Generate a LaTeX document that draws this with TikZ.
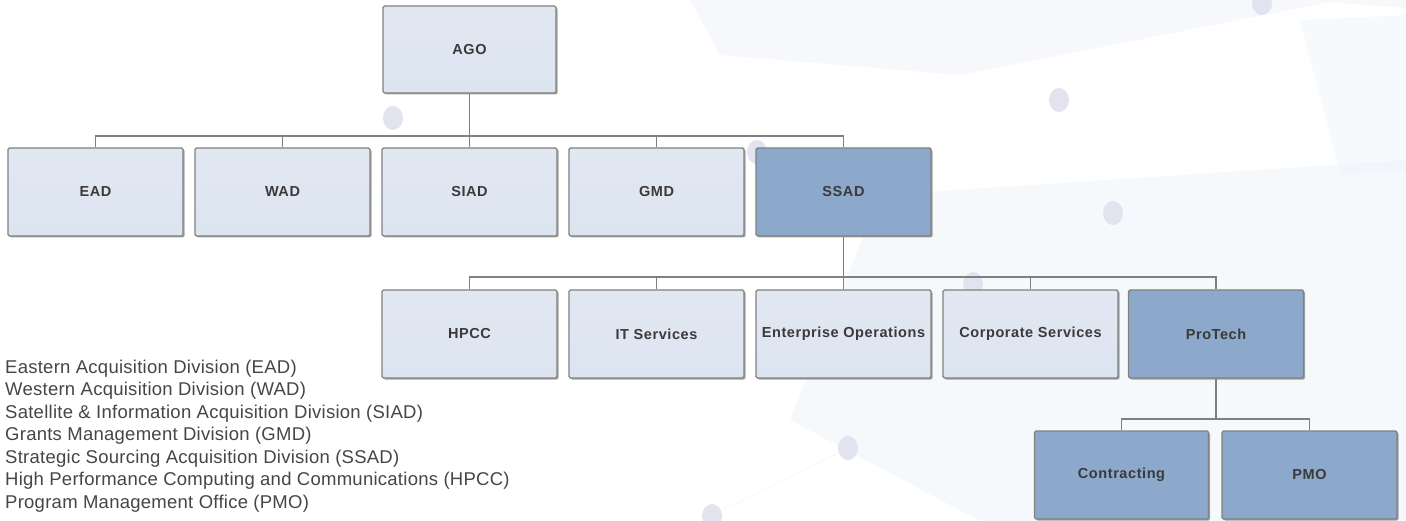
\documentclass[tikz,border=0pt]{standalone}
\usepackage{fontspec}
\setmainfont{Liberation Sans}
\newfontfamily\boxfont[LetterSpace=4]{Liberation Sans}
\newfontfamily\legfont[LetterSpace=1.4]{Liberation Sans}
\usetikzlibrary{shadows}
\definecolor{lightbox}{HTML}{DCE4F0}
\definecolor{darkbox}{HTML}{8CA8CB}
\definecolor{boxborder}{HTML}{808080}
\definecolor{linecol}{HTML}{808080}
\definecolor{txtcol}{HTML}{3A3A3A}
\definecolor{legcol}{HTML}{464646}
\definecolor{dotcol}{HTML}{E3E3F0}
\definecolor{bgblue}{HTML}{EFF4FA}
\tikzset{
  orgbox/.style={draw=boxborder, line width=1.4pt, rounded corners=1.5pt,
    minimum width=175pt, minimum height=88pt, inner sep=0pt,
    font=\boxfont\bfseries\fontsize{14.5}{17}\selectfont, text=txtcol,
    drop shadow={shadow xshift=1.5pt, shadow yshift=-1.5pt, opacity=0.35, fill=black}},
  litebox/.style={orgbox, top color=lightbox!85!white, bottom color=lightbox},
  deepbox/.style={orgbox, fill=darkbox},
  conn/.style={draw=linecol, line width=1.3pt},
  legend/.style={anchor=base west, inner sep=0pt, text=legcol, font=\legfont\fontsize{18.5}{22}\selectfont},
  bgdot/.style={fill=dotcol, draw=none}
}
\begin{document}
\begin{tikzpicture}[x=1pt,y=-1pt]
\fill[white] (0,0) rectangle (1406,521);
\useasboundingbox (0,0) rectangle (1406,521);
% faint background
\fill[bgblue, opacity=0.55] (690,0) -- (1406,0) -- (1406,8) -- (1330,2) -- (960,75) -- (720,55) -- cycle;
\fill[bgblue, opacity=0.5] (880,195) -- (1406,160) -- (1406,521) -- (980,521) -- (790,420) -- cycle;
\fill[bgblue, opacity=0.45] (1300,20) -- (1406,15) -- (1406,170) -- (1340,175) -- cycle;
\draw[bgblue!70!black!15, line width=0.8pt, opacity=0.5] (848,448) -- (712,515);
\draw[bgblue!70!black!15, line width=0.8pt, opacity=0.5] (848,448) -- (820,380);
\draw[bgblue!70!black!15, line width=0.8pt, opacity=0.5] (1113,213) -- (1180,380);
\fill[bgdot] (393,118) ellipse (10pt and 12pt);
\fill[bgdot] (1059,100) ellipse (10pt and 12pt);
\fill[bgdot] (1113,213) ellipse (10pt and 12pt);
\fill[bgdot] (1262,3) ellipse (10pt and 12pt);
\fill[bgdot] (848,448) ellipse (10pt and 12pt);
\fill[bgdot] (712,516) ellipse (10pt and 12pt);
\fill[bgdot] (757,152) ellipse (10pt and 12pt);
\fill[bgdot] (973,284) ellipse (10pt and 12pt);

% nodes
\node[litebox, minimum width=173pt, minimum height=87pt] (ago) at (469.5,49.5) {AGO};
\node[litebox] (ead) at (95.5,192) {EAD};
\node[litebox] (wad) at (282.5,192) {WAD};
\node[litebox] (siad) at (469.5,192) {SIAD};
\node[litebox] (gmd) at (656.5,192) {GMD};
\node[deepbox] (ssad) at (843.5,192) {SSAD};

\node[litebox] (hpcc) at (469.5,334) {HPCC};
\node[litebox] (its) at (656.5,334) {IT Services};
\node[litebox] (ent) at (843.5,334) {Enterprise Operations};
\node[litebox] (corp) at (1030.5,334) {Corporate Services};
\node[deepbox] (pro) at (1216,334) {ProTech};

\node[deepbox, minimum width=174pt] (con) at (1121.5,475) {Contracting};
\node[deepbox] (pmo) at (1309.5,475) {PMO};

% buses
\coordinate (bus1) at (469.5,136);
\coordinate (bus2) at (843.5,277);
\coordinate (bus3) at (1216,419);

\draw[conn] (ago.south) -- (bus1);
\foreach \c in {ead,wad,siad,gmd,ssad} \draw[conn] (\c.north) |- (bus1);
\draw[conn] (ssad.south) -- (bus2);
\foreach \c in {hpcc,its,ent,corp,pro} \draw[conn] (\c.north) |- (bus2);
\draw[conn] (pro.south) -- (bus3);
\foreach \c in {con,pmo} \draw[conn] (\c.north) |- (bus3);

% legend
\node[legend] (l1) at (5,373.3) {Eastern Acquisition Division (EAD)};
\node[legend] (l2) at (5,395.8) {Western Acquisition Division (WAD)};
\node[legend] (l3) at (5,418.3) {Satellite \& Information Acquisition Division (SIAD)};
\node[legend] (l4) at (5,440.8) {Grants Management Division (GMD)};
\node[legend] (l5) at (5,463.3) {Strategic Sourcing Acquisition Division (SSAD)};
\node[legend] (l6) at (5,485.8) {High Performance Computing and Communications (HPCC)};
\node[legend] (l7) at (5,508.3) {Program Management Office (PMO)};
\end{tikzpicture}
\end{document}
